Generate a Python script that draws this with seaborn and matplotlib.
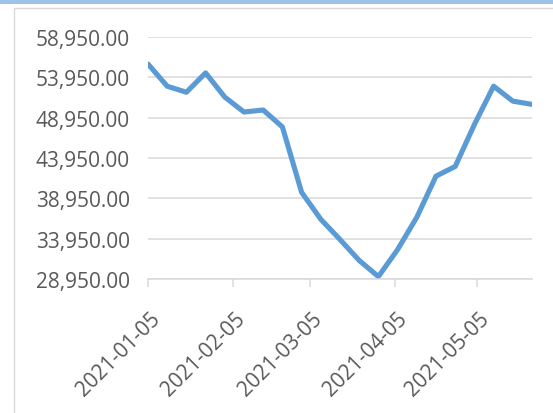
import matplotlib
matplotlib.use("Agg")
import matplotlib.pyplot as plt
import matplotlib.ticker as mticker
from matplotlib.lines import Line2D
from matplotlib.patches import Rectangle
from matplotlib.transforms import ScaledTranslation
import seaborn as sns
import pandas as pd

# ---- data ----
dates = ["2021-01-05", "2021-01-12", "2021-01-19", "2021-01-26", "2021-02-02",
         "2021-02-09", "2021-02-16", "2021-02-23", "2021-03-02", "2021-03-09",
         "2021-03-16", "2021-03-23", "2021-03-30", "2021-04-06", "2021-04-13",
         "2021-04-20", "2021-04-27", "2021-05-04", "2021-05-11", "2021-05-18",
         "2021-05-25"]
values = [55600, 52850, 52100, 54500, 51500,
          49650, 49900, 47800, 39700, 36350,
          33850, 31250, 29250, 32600, 36600,
          41700, 42900, 48100, 52850, 51000,
          50600]
y_ticks = [28950, 33950, 38950, 43950, 48950, 53950, 58950]
x_tick_labels = ["2021-01-05", "2021-02-05", "2021-03-05", "2021-04-05", "2021-05-05"]

df = pd.DataFrame({"date": pd.to_datetime(dates), "value": values})

sns.set_style("white")
plt.rcParams["font.family"] = ["Open Sans", "DejaVu Sans"]

W, H = 553, 414
fig = plt.figure(figsize=(W / 100, H / 100), dpi=100)
fig.patch.set_facecolor("white")

# decorations of the chart frame
fig.patches.append(Rectangle((0, 1 - 5 / H), 1, 5 / H, transform=fig.transFigure,
                             facecolor="#9DC3E6", edgecolor="none", zorder=0))
fig.lines.append(Line2D([14 / W, 14 / W, 1], [0, 1 - 9 / H, 1 - 9 / H],
                        transform=fig.transFigure, color="#D9D9D9", lw=1.0))

ax = fig.add_axes([148 / W, 1 - 280 / H, 384 / W, 242 / H])
sns.lineplot(data=df, x="date", y="value", ax=ax, color="#5B9BD5", linewidth=3.7,
             solid_joinstyle="round", solid_capstyle="round")

ax.set_ylim(y_ticks[0], y_ticks[-1])
ax.set_yticks(y_ticks)
ax.yaxis.set_major_formatter(mticker.FuncFormatter(lambda v, p: f"{v:,.2f}"))
ax.set_xlim(df["date"].iloc[0], df["date"].iloc[-1])
ax.set_xticks(pd.to_datetime(x_tick_labels))

ax.set_xlabel("")
ax.set_ylabel("")
ax.set_axisbelow(True)
ax.grid(axis="y", color="#D9D9D9", linewidth=1.1)
ax.grid(axis="x", visible=False)
for s in ["left", "right", "top"]:
    ax.spines[s].set_visible(False)
ax.spines["bottom"].set_color("#D9D9D9")
ax.spines["bottom"].set_linewidth(1.1)
ax.tick_params(axis="x", length=5.8, width=1.1, color="#D9D9D9", pad=20,
               labelsize=15, labelcolor="#595959", bottom=True)
ax.tick_params(axis="y", length=0, pad=13, labelsize=15, labelcolor="#595959")

ax.set_xticklabels(x_tick_labels, rotation=45, ha="right", va="center",
                   rotation_mode="anchor")
off = ScaledTranslation(9 / 100, 0, fig.dpi_scale_trans)
for lab in ax.get_xticklabels():
    lab.set_transform(lab.get_transform() + off)

fig.savefig("out.png", dpi=100)
